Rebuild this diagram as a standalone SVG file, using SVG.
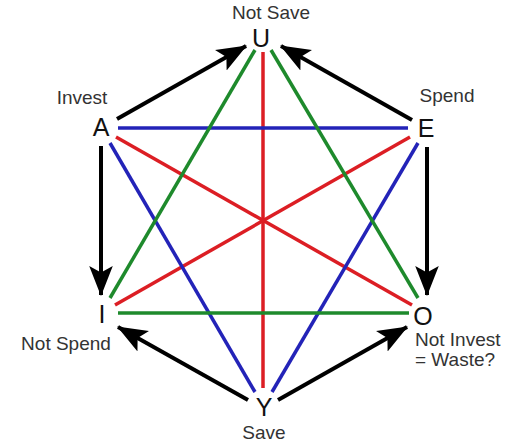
<svg xmlns="http://www.w3.org/2000/svg" width="524" height="444" viewBox="0 0 524 444">
<style>
  .lbl { font-family: "Liberation Sans", Arial, sans-serif; font-size: 19px; fill: #333; }
  .ltr { font-family: "Liberation Sans", Arial, sans-serif; font-size: 25px; fill: #111; text-anchor: middle; }
  .red { stroke: #dc1e24; stroke-width: 3.5; fill: none; }
  .blue { stroke: #2323b8; stroke-width: 3.5; fill: none; }
  .green { stroke: #1e8a2c; stroke-width: 3.5; fill: none; }
  .arr { stroke: #000; stroke-width: 4; fill: none; marker-end: url(#ah); }
</style>
<defs>
  <marker id="ah" markerUnits="userSpaceOnUse" markerWidth="30" markerHeight="24" viewBox="0 0 28 22" refX="27" refY="11" orient="auto">
    <path d="M0,0 L28,11 L0,22 L6,11 Z" fill="#000"/>
  </marker>
</defs>
<rect width="524" height="444" fill="#fff"/>
<g id="connectors">
  <line class="red" x1="263" y1="52" x2="263" y2="388"/>
  <line class="red" x1="116" y1="137" x2="412" y2="305"/>
  <line class="red" x1="410" y1="137" x2="115" y2="305"/>
  <line class="blue" x1="118" y1="128" x2="408" y2="128"/>
  <line class="blue" x1="110" y1="143" x2="255" y2="392"/>
  <line class="blue" x1="418" y1="143" x2="272" y2="392"/>
  <line class="green" x1="118" y1="313" x2="409" y2="313"/>
  <line class="green" x1="255" y1="50" x2="110" y2="298"/>
  <line class="green" x1="271" y1="50" x2="418" y2="298"/>
  <line class="arr" x1="117" y1="119" x2="246" y2="46"/>
  <line class="arr" x1="412" y1="120" x2="281" y2="46"/>
  <line class="arr" x1="101" y1="146" x2="101" y2="295"/>
  <line class="arr" x1="427" y1="147" x2="427" y2="295"/>
  <line class="arr" x1="248" y1="400" x2="118" y2="327"/>
  <line class="arr" x1="278" y1="400" x2="407" y2="327"/>
</g>
<g id="U"><text class="lbl" x="271" y="19" text-anchor="middle">Not Save</text><text class="ltr" x="261" y="47">U</text></g>
<g id="A"><text class="lbl" x="82" y="104" text-anchor="middle">Invest</text><text class="ltr" x="101" y="136">A</text></g>
<g id="E"><text class="lbl" x="447" y="102" text-anchor="middle">Spend</text><text class="ltr" x="426" y="137">E</text></g>
<g id="I"><text class="ltr" x="102" y="323">I</text><text class="lbl" x="66" y="350" text-anchor="middle">Not Spend</text></g>
<g id="O"><text class="ltr" x="423" y="325">O</text><text class="lbl" x="415" y="346">Not Invest</text><text class="lbl" x="415" y="366">= Waste?</text></g>
<g id="Y"><text class="ltr" x="264" y="416">Y</text><text class="lbl" x="264" y="439" text-anchor="middle">Save</text></g>
</svg>
